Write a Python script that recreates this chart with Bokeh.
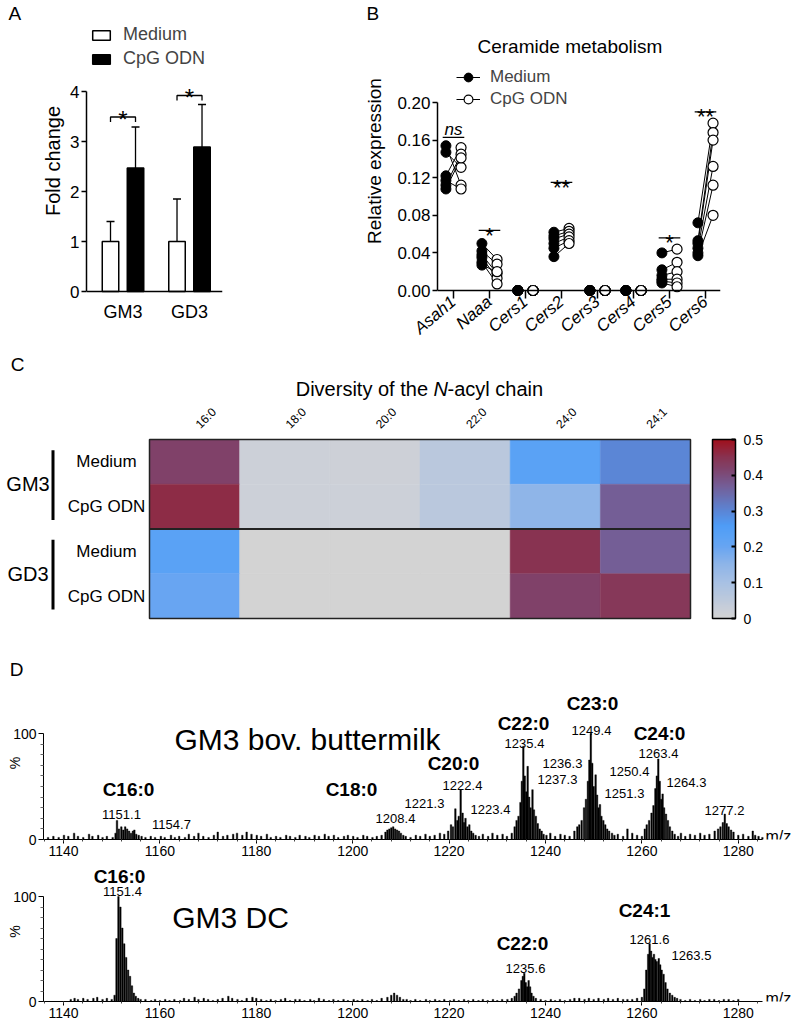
import numpy as np
from bokeh.plotting import figure
from bokeh.layouts import column, row
from bokeh.models import (Range1d, FixedTicker, Whisker, TeeHead, ColumnDataSource, Label,
                          Legend, LegendItem, LinearColorMapper, ColorBar, Span, BoxAnnotation,
                          PrintfTickFormatter)
from bokeh.transform import transform
from bokeh.embed import file_html
from bokeh.resources import INLINE

FONT = "Liberation Sans"

# ---------------- DATA ----------------
# Panel A
a_groups = ["GM3", "GD3"]
a_treatments = ["Medium", "CpG ODN"]
a_medium_mean = [1.0, 1.0]
a_medium_sd = [0.40, 0.85]
a_cpg_mean = [2.47, 2.89]
a_cpg_sd = [0.82, 0.85]
a_sig_text = ["*", "*"]
a_sig_level = [3.49, 3.92]

# Panel B
b_genes = ["Asah1", "Naaa", "Cers1", "Cers2", "Cers3", "Cers4", "Cers5", "Cers6"]
b_medium = [
    [0.154, 0.147, 0.122, 0.117, 0.112, 0.108],
    [0.050, 0.042, 0.038, 0.035, 0.030, 0.027],
    [0.0, 0.0, 0.0, 0.0, 0.0, 0.0],
    [0.062, 0.058, 0.055, 0.050, 0.045, 0.036],
    [0.0, 0.0, 0.0, 0.0, 0.0, 0.0],
    [0.0, 0.0, 0.0, 0.0, 0.0, 0.0],
    [0.040, 0.022, 0.016, 0.012, 0.010, 0.008],
    [0.072, 0.053, 0.050, 0.045, 0.040, 0.037],
]
b_cpg = [
    [0.112, 0.131, 0.152, 0.108, 0.145, 0.141],
    [0.033, 0.028, 0.018, 0.013, 0.007, 0.020],
    [0.0, 0.0, 0.0, 0.0, 0.0, 0.0],
    [0.066, 0.063, 0.060, 0.057, 0.053, 0.050],
    [0.0, 0.0, 0.0, 0.0, 0.0, 0.0],
    [0.0, 0.0, 0.0, 0.0, 0.0, 0.0],
    [0.044, 0.030, 0.020, 0.012, 0.008, 0.004],
    [0.178, 0.168, 0.160, 0.132, 0.112, 0.080],
]
b_sig_text = ["ns", "*", "", "**", "", "", "*", "**"]
b_sig_level = [0.163, 0.064, None, 0.115, None, None, 0.056, 0.190]

# Panel C
c_chains = ["16:0", "18:0", "20:0", "22:0", "24:0", "24:1"]
c_groups = ["GM3", "GM3", "GD3", "GD3"]
c_rows = ["Medium", "CpG ODN", "Medium", "CpG ODN"]
c_values = [
    [0.42, 0.02, 0.018, 0.06, 0.23, 0.30],
    [0.46, 0.02, 0.02, 0.06, 0.15, 0.37],
    [0.23, 0.0, 0.0, 0.0, 0.45, 0.37],
    [0.20, 0.0, 0.0, 0.0, 0.42, 0.44],
]
c_title = ["Diversity of the", "N", "-acyl chain"]

# Panel D  (m/z, relative intensity %)
d_top_peaks = [
    (1136.8, 2), (1137.9, 3), (1139.0, 2), (1140.1, 4), (1141.0, 3), (1142.2, 6), (1143.0, 3),
    (1144.1, 2), (1145.3, 5), (1146.0, 3), (1147.2, 4), (1148.1, 2), (1149.0, 3), (1150.2, 2),
    (1150.8, 6), (1151.1, 18), (1151.5, 10), (1152.0, 12), (1152.4, 9), (1152.8, 12), (1153.2, 10),
    (1153.6, 8), (1154.0, 6), (1154.4, 8), (1154.7, 9), (1155.1, 5), (1155.6, 4), (1156.2, 3),
    (1157.0, 2), (1158.1, 3), (1159.0, 2), (1160.2, 3), (1161.0, 2), (1162.3, 4), (1163.1, 2),
    (1164.0, 3), (1165.2, 2), (1166.0, 5), (1167.1, 3), (1168.0, 6), (1169.0, 3), (1170.1, 2),
    (1171.2, 4), (1172.0, 7), (1173.1, 3), (1174.0, 4), (1175.2, 5), (1176.0, 6), (1177.1, 4),
    (1178.0, 7), (1179.0, 5), (1180.1, 4), (1181.0, 3), (1182.2, 5), (1183.0, 2), (1184.1, 3),
    (1185.0, 2), (1186.2, 4), (1187.0, 3), (1188.1, 2), (1189.0, 4), (1190.2, 3), (1191.0, 2),
    (1192.1, 4), (1193.0, 3), (1194.2, 5), (1195.0, 3), (1196.1, 4), (1197.0, 2), (1198.2, 3),
    (1199.0, 4), (1200.1, 3), (1201.0, 2), (1202.2, 4), (1203.0, 3), (1204.1, 2), (1205.0, 3),
    (1206.0, 4), (1206.8, 7), (1207.2, 9), (1207.6, 10), (1208.0, 11), (1208.4, 12), (1208.8, 10),
    (1209.2, 9), (1209.6, 8), (1210.0, 6), (1210.5, 4), (1211.0, 3), (1212.0, 2), (1213.1, 4),
    (1214.0, 3), (1215.1, 5), (1216.0, 3), (1217.0, 4), (1218.1, 6), (1219.0, 5), (1219.8, 8),
    (1220.4, 14), (1220.8, 12), (1221.3, 29), (1221.7, 18), (1222.0, 22), (1222.4, 47), (1222.8, 25),
    (1223.1, 16), (1223.4, 20), (1223.8, 12), (1224.2, 14), (1224.6, 8), (1225.0, 6), (1225.5, 4),
    (1226.2, 3), (1227.0, 5), (1228.1, 3), (1229.0, 6), (1230.0, 4), (1231.1, 5), (1232.0, 3),
    (1233.0, 6), (1233.6, 12), (1234.0, 18), (1234.4, 22), (1234.8, 35), (1235.1, 55), (1235.4, 88),
    (1235.7, 60), (1236.0, 45), (1236.3, 69), (1236.6, 40), (1236.9, 30), (1237.3, 47), (1237.6, 28),
    (1238.0, 22), (1238.4, 15), (1238.8, 10), (1239.2, 8), (1239.6, 5), (1240.2, 4), (1241.0, 6),
    (1242.0, 3), (1243.1, 5), (1244.0, 4), (1245.0, 3), (1246.0, 8), (1246.6, 12), (1247.0, 14),
    (1247.5, 18), (1248.0, 30), (1248.4, 38), (1248.8, 55), (1249.1, 75), (1249.4, 100), (1249.7, 72),
    (1250.0, 50), (1250.4, 61), (1250.7, 42), (1251.0, 30), (1251.3, 33), (1251.6, 22), (1252.0, 18),
    (1252.4, 14), (1252.8, 10), (1253.2, 8), (1253.8, 6), (1254.3, 4), (1255.0, 5), (1256.1, 3),
    (1257.0, 10), (1258.0, 6), (1259.0, 4), (1260.0, 3), (1260.6, 10), (1261.0, 14), (1261.5, 18),
    (1262.0, 25), (1262.4, 32), (1262.8, 48), (1263.1, 60), (1263.4, 76), (1263.7, 55), (1264.0, 38),
    (1264.3, 43), (1264.6, 30), (1265.0, 24), (1265.4, 18), (1265.8, 12), (1266.3, 8), (1266.8, 5),
    (1267.5, 3), (1268.1, 6), (1269.0, 3), (1270.0, 5), (1271.0, 4), (1272.1, 6), (1273.0, 4),
    (1274.0, 5), (1275.1, 8), (1275.8, 10), (1276.3, 12), (1276.8, 16), (1277.2, 24), (1277.6, 15),
    (1278.0, 12), (1278.5, 9), (1279.0, 7), (1280.0, 4), (1281.0, 5), (1282.1, 3), (1283.0, 8),
    (1283.5, 4), (1284.2, 3), (1285.0, 2),
]
d_bot_peaks = [
    (1141.5, 2), (1142.3, 3), (1143.0, 2), (1144.1, 3), (1145.0, 2), (1146.2, 3), (1147.0, 4),
    (1148.1, 2), (1149.0, 3), (1150.0, 2), (1150.6, 6), (1151.0, 60), (1151.4, 100), (1151.8, 90),
    (1152.2, 70), (1152.6, 55), (1153.0, 42), (1153.4, 30), (1153.8, 24), (1154.2, 15), (1154.6, 8),
    (1155.0, 5), (1155.5, 3), (1156.0, 2), (1157.0, 2), (1158.2, 1), (1159.0, 2), (1160.0, 1),
    (1161.1, 2), (1162.0, 1), (1163.0, 2), (1164.2, 1), (1165.0, 3), (1166.0, 2), (1167.2, 4),
    (1168.0, 2), (1169.1, 3), (1170.0, 2), (1171.0, 1), (1172.0, 2), (1173.0, 3), (1174.2, 5),
    (1175.0, 3), (1176.1, 2), (1177.0, 1), (1178.0, 3), (1179.2, 4), (1180.0, 3), (1181.0, 2),
    (1182.1, 1), (1183.0, 2), (1184.0, 1), (1185.1, 2), (1186.0, 3), (1187.0, 1), (1188.1, 2),
    (1189.0, 2), (1190.0, 1), (1191.2, 2), (1192.0, 1), (1193.0, 3), (1194.0, 2), (1195.1, 1),
    (1196.0, 2), (1197.0, 1), (1198.1, 2), (1199.0, 1), (1200.2, 2), (1201.0, 1), (1202.0, 2),
    (1203.1, 1), (1204.0, 2), (1205.0, 1), (1206.0, 3), (1207.2, 4), (1208.0, 6), (1208.6, 8),
    (1209.2, 6), (1209.8, 4), (1210.5, 2), (1211.2, 2), (1212.0, 1), (1213.0, 2), (1214.0, 1),
    (1215.2, 2), (1216.0, 1), (1217.1, 2), (1218.0, 1), (1219.0, 2), (1220.2, 1), (1221.0, 2),
    (1222.0, 1), (1223.1, 2), (1224.0, 1), (1225.0, 2), (1226.1, 1), (1227.0, 2), (1228.0, 1),
    (1229.1, 2), (1230.0, 1), (1231.0, 2), (1232.1, 2), (1233.0, 3), (1233.6, 5), (1234.0, 8),
    (1234.5, 12), (1235.0, 20), (1235.3, 24), (1235.6, 27), (1235.9, 18), (1236.2, 14), (1236.5, 20),
    (1236.8, 14), (1237.1, 8), (1237.5, 5), (1238.0, 3), (1239.0, 2), (1240.0, 1), (1241.1, 2),
    (1242.0, 1), (1243.0, 2), (1244.0, 1), (1245.1, 2), (1246.0, 3), (1247.0, 3), (1248.1, 2),
    (1249.0, 3), (1250.0, 2), (1251.0, 3), (1252.1, 2), (1253.0, 3), (1254.0, 2), (1255.0, 3),
    (1256.1, 2), (1257.0, 2), (1258.0, 2), (1259.0, 3), (1260.0, 4), (1260.5, 12), (1260.9, 30),
    (1261.3, 45), (1261.6, 55), (1261.9, 48), (1262.2, 42), (1262.5, 45), (1262.8, 40), (1263.1, 38),
    (1263.5, 41), (1263.8, 35), (1264.1, 30), (1264.5, 26), (1264.9, 18), (1265.3, 12), (1265.8, 8),
    (1266.3, 6), (1266.8, 4), (1267.3, 3), (1268.0, 2), (1269.0, 1), (1270.0, 2), (1271.0, 1),
    (1272.1, 2), (1273.0, 1), (1274.0, 2), (1275.0, 2), (1276.0, 1), (1277.0, 2), (1278.0, 2),
    (1279.0, 1), (1280.0, 2),
]
d_top_title = "GM3 bov. buttermilk"
d_bot_title = "GM3 DC"
d_ticks = [1140, 1160, 1180, 1200, 1220, 1240, 1260, 1280]

# colour map anchors (value, colour) for heatmap
cmap_stops = [0.0, 0.02, 0.06, 0.10, 0.15, 0.20, 0.23, 0.26, 0.30, 0.37, 0.42, 0.45, 0.50]
cmap_colors = ["#d3d3d3", "#ccd0d8", "#b9c8dd", "#a8c1e4", "#8fb5e8", "#68a5f2", "#5aa2f5",
               "#4f9cf6", "#5b86d6", "#745e97", "#80426a", "#883452", "#a0101c"]


# ---------------- HELPERS ----------------
def frame_map(fl, fr, x0, x1, ft, fb, y0, y1):
    def fx(rx):
        return x0 + (rx - fl) / (fr - fl) * (x1 - x0)

    def fy(ry):
        return y0 + (fb - ry) / (fb - ft) * (y1 - y0)
    return fx, fy


def add_label(p, text, x, y, size, align="center", baseline="middle", style="normal",
              angle=0.0, bg=None):
    lab = Label(x=x, y=y, text=text, text_font=FONT, text_font_size=f"{size}px",
                text_align=align, text_baseline=baseline, text_font_style=style,
                angle=angle, text_color="black")
    if bg is not None:
        lab.background_fill_color = bg
    p.add_layout(lab)


def base_fig(fw, fh, bl, br, bt, bb, xr, yr, **kw):
    p = figure(frame_width=fw, frame_height=fh, min_border_left=bl, min_border_right=br,
               min_border_top=bt, min_border_bottom=bb, x_range=Range1d(*xr), y_range=Range1d(*yr),
               output_backend="svg", toolbar_location=None, **kw)
    p.grid.visible = False
    p.outline_line_color = None
    p.background_fill_color = "white"
    p.border_fill_color = "white"
    return p


def style_axis(ax, size, lw=1.5):
    ax.major_label_text_font = FONT
    ax.major_label_text_font_size = f"{size}px"
    ax.major_label_text_color = "black"
    ax.axis_line_color = "black"
    ax.axis_line_width = lw
    ax.major_tick_line_color = "black"
    ax.major_tick_line_width = lw
    ax.minor_tick_line_color = None
    ax.axis_label_text_font = FONT
    ax.axis_label_text_font_style = "normal"
    ax.axis_label_text_color = "black"


def panel_letter(p, text, offset):
    p.title.text = text
    p.title.align = "left"
    p.title.offset = offset
    p.title.standoff = 0
    p.title.text_font = FONT
    p.title.text_font_size = "19px"
    p.title.text_font_style = "normal"
    p.title.text_color = "black"


TOP = 22      # frame top of panels A and B
BOT = 297     # frame bottom of panels A and B
ROW_H = 352   # height of the first row

# ---------------- PANEL A ----------------
# frame: x 86..222 ; y = 0 at 290 (50 px / unit)
AX = (-0.549, 1.496)
AY = (-(BOT - 290) / 50, (290 - TOP) / 50)
pa = base_fig(136, BOT - TOP, 86, 18, TOP, ROW_H - BOT, AX, AY)
xa = np.arange(len(a_groups), dtype=float)
off, bw = 0.188, 0.248
src_a = ColumnDataSource(dict(xm=xa - off, xc=xa + off, m=a_medium_mean, c=a_cpg_mean,
                              mu=np.add(a_medium_mean, a_medium_sd),
                              cu=np.add(a_cpg_mean, a_cpg_sd)))
for base, lo, up in (("xm", "m", "mu"), ("xc", "c", "cu")):
    pa.add_layout(Whisker(source=src_a, base=base, lower=lo, upper=up,
                          upper_head=TeeHead(size=8, line_width=1.3, line_color="black"),
                          lower_head=None, line_width=1.3, line_color="black"))
r_med = pa.vbar(x="xm", top="m", bottom=0, width=bw, source=src_a, fill_color="white",
                line_color="black", line_width=1.5)
r_cpg = pa.vbar(x="xc", top="c", bottom=0, width=bw, source=src_a, fill_color="black",
                line_color="black", line_width=1.5)
pa.multi_line([[x - off, x - off, x + off, x + off] for x in xa],
              [[h - 0.1, h, h, h - 0.1] for h in a_sig_level], line_color="black", line_width=1.3)
for x, h, t in zip(xa, a_sig_level, a_sig_text):
    add_label(pa, t, x, h - 0.04, 24, baseline="alphabetic")
pa.add_layout(Span(location=0, dimension="width", line_color="black", line_width=1.5))

style_axis(pa.yaxis, 17)
pa.yaxis.ticker = FixedTicker(ticks=[0, 1, 2, 3, 4])
pa.yaxis.bounds = (0, 4)
pa.yaxis.major_tick_out = 5
pa.yaxis.major_tick_in = 0
pa.yaxis.major_label_standoff = 2
pa.yaxis.axis_label = "Fold change"
pa.yaxis.axis_label_text_font_size = "20px"
pa.yaxis.axis_label_standoff = 3
style_axis(pa.xaxis, 18)
pa.xaxis.axis_line_color = None
pa.xaxis.ticker = FixedTicker(ticks=list(range(len(a_groups))))
pa.xaxis.major_label_overrides = {i: g for i, g in enumerate(a_groups)}
pa.xaxis.major_tick_out = 0
pa.xaxis.major_tick_in = 0
pa.xaxis.major_label_standoff = 3

leg_a = Legend(items=[LegendItem(label=a_treatments[0], renderers=[r_med]),
                      LegendItem(label=a_treatments[1], renderers=[r_cpg])],
               location=(4, 229), padding=0, margin=0, spacing=3, glyph_width=22, glyph_height=12,
               label_height=21, label_standoff=11, label_text_font=FONT,
               label_text_font_size="18px", border_line_color=None, background_fill_alpha=0)
pa.add_layout(leg_a)
panel_letter(pa, "A", 8 - 86)

# ---------------- PANEL B ----------------
# frame: x 437..720 ; y = 0 at 289 (940 px / unit)
BX = (-0.444, 7.417)
BY = (-(BOT - 289) / 940, (289 - TOP) / 940)
pb = base_fig(283, BOT - TOP, 197, 80, TOP, ROW_H - BOT, BX, BY)
fxb, fyb = frame_map(437, 720, BX[0], BX[1], TOP, BOT, BY[0], BY[1])
boff = 0.21
med_x, med_y, cpg_x, cpg_y = [], [], [], []
for i, (mv, cv) in enumerate(zip(b_medium, b_cpg)):
    med_x += [i - boff] * len(mv)
    med_y += mv
    cpg_x += [i + boff] * len(cv)
    cpg_y += cv
src_b = ColumnDataSource(dict(mx=med_x, my=med_y, cx=cpg_x, cy=cpg_y))
pb.add_layout(Span(location=0, dimension="width", line_color="black", line_width=1.5))
r_seg = pb.segment(x0="mx", y0="my", x1="cx", y1="cy", source=src_b, line_color="black",
                   line_width=1.0)
r_bc = pb.scatter(x="cx", y="cy", source=src_b, size=10, marker="circle", fill_color="white",
                  line_color="black", line_width=1.2)
r_bm = pb.scatter(x="mx", y="my", source=src_b, size=10, marker="circle", fill_color="black",
                  line_color="black")
sig_i = [i for i, h in enumerate(b_sig_level) if h is not None]
pb.segment(x0=[i - 0.3 for i in sig_i], x1=[i + 0.3 for i in sig_i],
           y0=[b_sig_level[i] for i in sig_i], y1=[b_sig_level[i] for i in sig_i],
           line_color="black", line_width=1.2)
for i in sig_i:
    t = b_sig_text[i]
    if t == "ns":
        add_label(pb, t, i, b_sig_level[i] + 0.008, 17, baseline="alphabetic", style="italic")
    else:
        add_label(pb, t, i, b_sig_level[i] - 0.005, 22, baseline="alphabetic")

style_axis(pb.yaxis, 17)
pb.yaxis.ticker = FixedTicker(ticks=[0.0, 0.04, 0.08, 0.12, 0.16, 0.20])
pb.yaxis.formatter = PrintfTickFormatter(format="%.2f")
pb.yaxis.bounds = (0, 0.2)
pb.yaxis.major_tick_out = 5
pb.yaxis.major_tick_in = 0
pb.yaxis.major_label_standoff = 2
pb.yaxis.axis_label = "Relative expression"
pb.yaxis.axis_label_text_font_size = "19px"
pb.yaxis.axis_label_standoff = 9
style_axis(pb.xaxis, 17)
pb.xaxis.axis_line_color = None
pb.xaxis.ticker = FixedTicker(ticks=list(range(len(b_genes))))
pb.xaxis.major_label_overrides = {i: g for i, g in enumerate(b_genes)}
pb.xaxis.major_label_orientation = 0.70
pb.xaxis.major_label_text_font_style = "italic"
pb.xaxis.major_tick_out = 0
pb.xaxis.major_tick_in = 8
pb.xaxis.major_label_standoff = 1

leg_b = Legend(items=[LegendItem(label=a_treatments[0], renderers=[r_seg, r_bm]),
                      LegendItem(label=a_treatments[1], renderers=[r_seg, r_bc])],
               location=(19, 188), padding=0, margin=0, spacing=0, glyph_width=24,
               glyph_height=22, label_height=20, label_standoff=10, label_text_font=FONT,
               label_text_font_size="17px", border_line_color=None, background_fill_alpha=0)
pb.add_layout(leg_b)
panel_letter(pb, "B", 366 - 437)
add_label(pb, "Ceramide metabolism", fxb(477), fyb(45), 19, align="left", baseline="alphabetic")

# ---------------- PANEL C (frame = whole figure 0..800 x 352..680) ----------------
stops = np.array(cmap_stops)
rgb = np.array([[int(c[k:k + 2], 16) for k in (1, 3, 5)] for c in cmap_colors], dtype=float)
tv = np.linspace(stops[0], stops[-1], 256)
palette = ["#%02x%02x%02x" % tuple(int(round(np.interp(v, stops, rgb[:, k]))) for k in range(3))
           for v in tv]
mapper = LinearColorMapper(palette=palette, low=0.0, high=0.5)

ncol, nrow = len(c_chains), len(c_rows)
HM_L, HM_R, HM_T, HM_B = 149, 690, 438, 617
C_T, C_B = ROW_H, 680
colw = (HM_R - HM_L) / ncol
rowh = (HM_B - HM_T) / nrow
CX = (-HM_L / colw, (800 - HM_L) / colw)
CY = (-(C_B - HM_B) / rowh, nrow + (HM_T - C_T) / rowh)
pc = base_fig(800, C_B - C_T, 0, 0, 0, 0, CX, CY, x_axis_location=None, y_axis_location=None,
              title=None)
fxc, fyc = frame_map(0, 800, CX[0], CX[1], C_T, C_B, CY[0], CY[1])
hx, hy, hv = [], [], []
for i, vals in enumerate(c_values):
    for j, v in enumerate(vals):
        hx.append(j + 0.5)
        hy.append(nrow - 0.5 - i)
        hv.append(v)
src_c = ColumnDataSource(dict(x=hx, y=hy, v=hv))
pc.rect(x="x", y="y", width=1, height=1, source=src_c, fill_color=transform("v", mapper),
        line_color=transform("v", mapper), line_width=0.5)
n_gm3 = sum(1 for g in c_groups if g == c_groups[0])
pc.segment(x0=[0], x1=[ncol], y0=[nrow - n_gm3], y1=[nrow - n_gm3], line_color="#222222",
           line_width=2)
pc.rect(x=[ncol / 2], y=[nrow / 2], width=ncol, height=nrow, fill_color=None,
        line_color="#222222", line_width=1.5)

for j, ch in enumerate(c_chains):
    add_label(pc, ch, j + 0.5 + 3 / colw, fyc(425), 12, align="left", angle=np.pi / 4)
for i, r in enumerate(c_rows):
    add_label(pc, r, fxc(106), nrow - 0.5 - i, 17)
seen = []
for i, g in enumerate(c_groups):
    if g in seen:
        continue
    seen.append(g)
    idx = [k for k, gg in enumerate(c_groups) if gg == g]
    ytop = nrow - idx[0]
    ybot = nrow - idx[-1] - 1
    add_label(pc, g, fxc(27.5), (ytop + ybot) / 2, 20)
    pc.add_layout(BoxAnnotation(left=fxc(51), right=fxc(54), top=ytop - 0.24, bottom=ybot + 0.2,
                                fill_color="black", fill_alpha=1.0, line_alpha=0))
add_label(pc, c_title[0], fxc(427.5), fyc(387), 20, align="right", baseline="alphabetic")
add_label(pc, c_title[1], fxc(433), fyc(387), 20, align="left", baseline="alphabetic",
          style="italic")
add_label(pc, c_title[2], fxc(447), fyc(387), 20, align="left", baseline="alphabetic")
add_label(pc, "C", fxc(17), fyc(363), 19)
add_label(pc, "D", fxc(16), fyc(668), 19)

cb_ticks = [0, 0.1, 0.2, 0.3, 0.4, 0.5]
cb = ColorBar(color_mapper=mapper, location=(712, C_B - HM_B), width=23, height=HM_B - HM_T,
              padding=0, margin=0, ticker=FixedTicker(ticks=cb_ticks),
              major_label_overrides={t: f"{t:g}" for t in cb_ticks},
              major_tick_in=4, major_tick_out=0, major_tick_line_color="black",
              major_tick_line_width=2, minor_tick_line_color=None,
              bar_line_color="black", bar_line_width=1.5, border_line_color=None,
              background_fill_color=None, label_standoff=8, major_label_text_font=FONT,
              major_label_text_font_size="14px", major_label_text_color="black")
pc.add_layout(cb)

# ---------------- PANEL D ----------------
PXU = 4.82          # px per m/z unit
MZ_AT_63 = 1140.0   # m/z at x = 63 px
DX = (MZ_AT_63 - (63 - 43) / PXU, MZ_AT_63 + (800 - 63) / PXU)
D_AXIS_END = MZ_AT_63 + (762 - 63) / PXU


def spectrum_fig(peaks, bt, fh, bb, yr):
    p = base_fig(800 - 43, fh, 43, 0, bt, bb, DX, yr, title=None)
    mz = [m for m, _ in peaks]
    it = [v for _, v in peaks]
    p.vbar(x=mz, top=it, bottom=0, width=0.32, fill_color="black", line_color="black",
           line_width=0.4)
    style_axis(p.xaxis, 14, lw=1)
    p.xaxis.bounds = (DX[0], D_AXIS_END)
    p.xaxis.ticker = FixedTicker(ticks=d_ticks, minor_ticks=list(range(1136, 1286, 4)))
    p.xaxis.major_tick_out = 4
    p.xaxis.major_tick_in = 0
    p.xaxis.minor_tick_out = 2
    p.xaxis.minor_tick_in = 0
    p.xaxis.minor_tick_line_color = "#444444"
    p.xaxis.major_label_standoff = 2
    style_axis(p.yaxis, 14, lw=1)
    p.yaxis.ticker = FixedTicker(ticks=[0, 100], minor_ticks=list(range(10, 100, 10)))
    p.yaxis.bounds = (0, 100)
    p.yaxis.major_tick_out = 5
    p.yaxis.major_tick_in = 0
    p.yaxis.minor_tick_out = 3
    p.yaxis.minor_tick_in = 0
    p.yaxis.minor_tick_line_color = "#666666"
    p.yaxis.major_label_standoff = 2
    p.yaxis.axis_label = "%"
    p.yaxis.axis_label_text_font_size = "14px"
    p.yaxis.axis_label_standoff = -13
    return p


# top spectrum: figure 680..860, frame 685..838 (0 % at 838, 1.06 px per %)
DY1 = (0.0, 153 / 1.06)
pd1 = spectrum_fig(d_top_peaks, 5, 153, 22, DY1)
fxd1, fyd1 = frame_map(43, 800, DX[0], DX[1], 690, 843, DY1[0], DY1[1])
# bottom spectrum: figure 860..1022, frame 860..1000 (0 % at 1000, 1.05 px per %)
DY2 = (0.0, 140 / 1.05)
pd2 = spectrum_fig(d_bot_peaks, 0, 140, 22, DY2)
fxd2, fyd2 = frame_map(43, 800, DX[0], DX[1], 863, 1003, DY2[0], DY2[1])

top_bold = [("C16:0", 128, 793), ("C18:0", 351, 793), ("C20:0", 453, 767),
            ("C22:0", 523, 727), ("C23:0", 592, 707), ("C24:0", 659, 737)]
top_vals = [("1151.1", 121, 818), ("1154.7", 171, 828), ("1208.4", 395, 822),
            ("1221.3", 424, 807), ("1222.4", 462, 789), ("1223.4", 490, 813),
            ("1235.4", 524, 747), ("1236.3", 562, 767), ("1237.3", 557, 783),
            ("1249.4", 591, 734), ("1250.4", 629, 775), ("1251.3", 624, 797),
            ("1263.4", 658, 757), ("1264.3", 686, 786), ("1277.2", 724, 814)]
for t, rx, ry in top_bold:
    add_label(pd1, t, fxd1(rx), fyd1(ry), 19, baseline="alphabetic", style="bold")
for t, rx, ry in top_vals:
    add_label(pd1, t, fxd1(rx), fyd1(ry), 13, baseline="alphabetic")
add_label(pd1, d_top_title, fxd1(307), fyd1(743), 30, baseline="alphabetic")
add_label(pd1, "m/z", fxd1(765), fyd1(840), 16, align="left", baseline="alphabetic")

bot_bold = [("C16:0", 119, 878), ("C22:0", 522, 945), ("C24:1", 644, 912)]
bot_vals = [("1151.4", 122, 893), ("1235.6", 525, 970), ("1261.6", 649, 941),
            ("1263.5", 691, 957)]
for t, rx, ry in bot_bold:
    add_label(pd2, t, fxd2(rx), fyd2(ry), 19, baseline="alphabetic", style="bold")
for t, rx, ry in bot_vals:
    add_label(pd2, t, fxd2(rx), fyd2(ry), 13, baseline="alphabetic")
add_label(pd2, d_bot_title, fxd2(230), fyd2(919), 30, baseline="alphabetic")
add_label(pd2, "m/z", fxd2(765), fyd2(1000), 16, align="left", baseline="alphabetic")

layout = column(row(pa, pb), row(pc), row(pd1), row(pd2))
open("out.html", "w").write(file_html(layout, INLINE))
